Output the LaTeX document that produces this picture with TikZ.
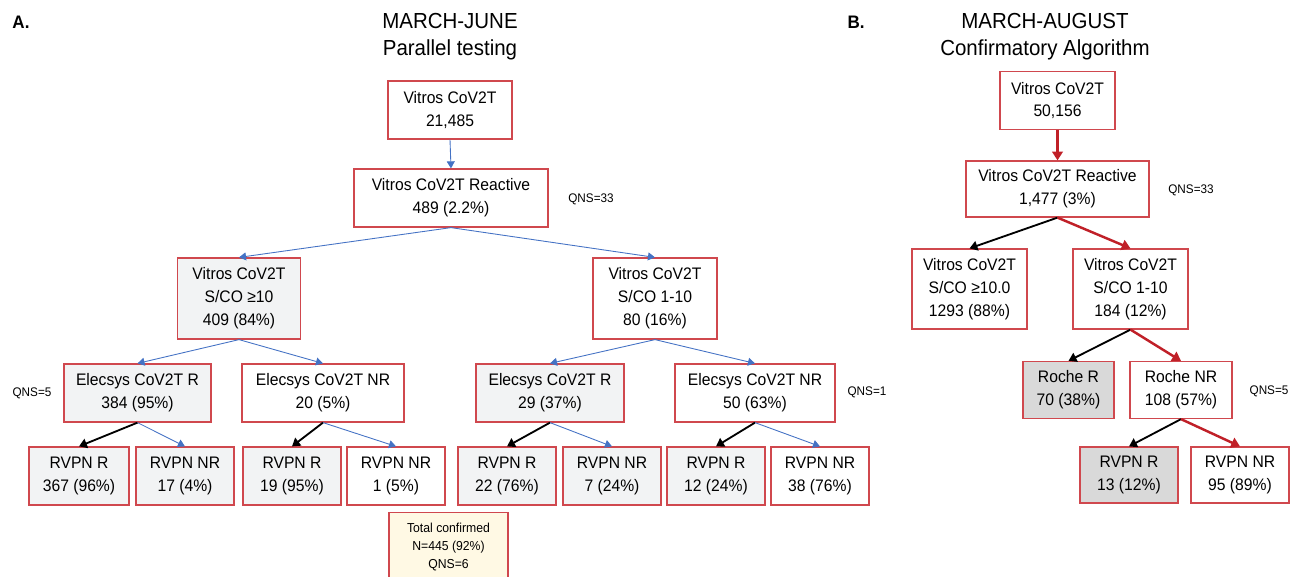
\documentclass[tikz,border=0pt]{standalone}
\usepackage{fontspec}
\setmainfont{Liberation Sans}[FakeStretch=0.94]
\usepackage{tikz}
\usetikzlibrary{arrows.meta}

\definecolor{boxred}{RGB}{208,72,78}
\definecolor{paleA}{RGB}{242,243,244}
\definecolor{greyB}{RGB}{217,217,217}
\definecolor{paleyellow}{RGB}{255,249,228}
\definecolor{arrblue}{RGB}{68,114,196}
\definecolor{arrred}{RGB}{192,32,40}

\begin{document}
\begin{tikzpicture}[
		x=0.02cm, y=-0.02cm,
		box/.style={rectangle, draw=boxred, line width=0.7pt, fill=white, align=center, inner sep=0pt,
			font=\fontsize{9.5}{13}\selectfont, minimum height=1.16cm},
		tall/.style={minimum height=1.62cm},
		shadeA/.style={fill=paleA},
		shadeB/.style={fill=greyB},
		note/.style={font=\fontsize{7.1}{9}\selectfont, inner sep=0pt},
		title/.style={align=center, font=\fontsize{12.4}{15.4}\selectfont},
		bluearr/.style={draw=arrblue, line width=0.5pt, -{Triangle[width=4.5pt,length=4pt]}},
		blackarr/.style={draw=black, line width=1.05pt, -{Triangle[width=5.5pt,length=4.5pt]}},
		redarr/.style={draw=arrred, line width=1.4pt, -{Triangle[width=6pt,length=5pt]}}
	]
  \useasboundingbox (0,0) rectangle (1290,576);
  \clip (0,0) rectangle (1290,576);

  % panel A
  \node (labA) [font=\bfseries\fontsize{10.3}{12}\selectfont, inner sep=0pt] at (21, 22) {A.};
  \node (titleA) [title] at (450, 37) {MARCH-JUNE\\Parallel testing};
  \node (a1) [box, minimum width=2.48cm] at (450, 110) {Vitros CoV2T\\21,485};
  \node (a2) [box, minimum width=3.88cm] at (451, 198) {Vitros CoV2T Reactive\\489 (2.2\%)};
  \node (a3) [box, tall, shadeA, minimum width=2.46cm] at (239, 298.5) {Vitros CoV2T\\S/CO ≥10\\409 (84\%)};
  \node (a4) [box, tall, minimum width=2.48cm] at (655, 298.5) {Vitros CoV2T\\S/CO 1-10\\80 (16\%)};
  \node (a5) [box, shadeA, minimum width=2.94cm] at (137.5, 393) {Elecsys CoV2T R\\384 (95\%)};
  \node (a6) [box, minimum width=3.24cm] at (323, 393) {Elecsys CoV2T NR\\20 (5\%)};
  \node (a7) [box, shadeA, minimum width=2.96cm] at (550, 393) {Elecsys CoV2T R\\29 (37\%)};
  \node (a8) [box, minimum width=3.2cm] at (755, 393) {Elecsys CoV2T NR\\50 (63\%)};
  \node (a9) [box, shadeA, minimum width=2cm] at (79, 476) {RVPN R\\367 (96\%)};
  \node (a10) [box, shadeA, minimum width=1.96cm] at (185, 476) {RVPN NR\\17 (4\%)};
  \node (a11) [box, shadeA, minimum width=1.96cm] at (292, 476) {RVPN R\\19 (95\%)};
  \node (a12) [box, minimum width=1.96cm] at (396, 476) {RVPN NR\\1 (5\%)};
  \node (a13) [box, shadeA, minimum width=1.96cm] at (507, 476) {RVPN R\\22 (76\%)};
  \node (a14) [box, shadeA, minimum width=1.96cm] at (612, 476) {RVPN NR\\7 (24\%)};
  \node (a15) [box, shadeA, minimum width=1.96cm] at (716, 476) {RVPN R\\12 (24\%)};
  \node (a16) [box, minimum width=1.96cm] at (820, 476) {RVPN NR\\38 (76\%)};
  \node (total) [box, fill=paleyellow, minimum width=2.38cm, minimum height=1.38cm,
    font=\fontsize{7.4}{10.2}\selectfont] at (448.5, 547) {Total confirmed\\N=445 (92\%)\\QNS=6};
  \node (qnsA1) [note] at (591, 199) {QNS=33};
  \node (qnsA2) [note] at (32, 393) {QNS=5};
  \node (qnsA3) [note] at (867, 392) {QNS=1};

  \draw (a1.south) edge[bluearr] (a2.north);
  \draw (a2.south) edge[bluearr] (a3.north);
  \draw (a2.south) edge[bluearr] (a4.north);
  \draw (a3.south) edge[bluearr] (a5.north);
  \draw (a3.south) edge[bluearr] (a6.north);
  \draw (a4.south) edge[bluearr] (a7.north);
  \draw (a4.south) edge[bluearr] (a8.north);
  \draw (a5.south) edge[blackarr] (a9.north);
  \draw (a5.south) edge[bluearr] (a10.north);
  \draw (a6.south) edge[blackarr] (a11.north);
  \draw (a6.south) edge[bluearr] (a12.north);
  \draw (a7.south) edge[blackarr] (a13.north);
  \draw (a7.south) edge[bluearr] (a14.north);
  \draw (a8.south) edge[blackarr] (a15.north);
  \draw (a8.south) edge[bluearr] (a16.north);

  % panel B
  \node (labB) [font=\bfseries\fontsize{10.3}{12}\selectfont, inner sep=0pt] at (856, 22) {B.};
  \node (titleB) [title] at (1045, 37) {MARCH-AUGUST\\Confirmatory Algorithm};
  \node (b1) [box, minimum width=2.3cm] at (1057.5, 100.5) {Vitros CoV2T\\50,156};
  \node (b2) [box, minimum width=3.66cm, minimum height=1.12cm] at (1057.5, 189) {Vitros CoV2T Reactive\\1,477 (3\%)};
  \node (b3) [box, tall, minimum width=2.3cm, minimum height=1.6cm] at (969.5, 289) {Vitros CoV2T\\S/CO ≥10.0\\1293 (88\%)};
  \node (b4) [box, tall, minimum width=2.3cm, minimum height=1.6cm] at (1130.5, 289) {Vitros CoV2T\\S/CO 1-10\\184 (12\%)};
  \node (b5) [box, shadeB, minimum width=1.82cm, minimum height=1.14cm] at (1068.5, 390) {Roche R\\70 (38\%)};
  \node (b6) [box, minimum width=2.04cm, minimum height=1.14cm] at (1181, 390) {Roche NR\\108 (57\%)};
  \node (b7) [box, shadeB, minimum width=1.96cm, minimum height=1.12cm] at (1129, 475) {RVPN R\\13 (12\%)};
  \node (b8) [box, minimum width=1.96cm, minimum height=1.12cm] at (1240, 475) {RVPN NR\\95 (89\%)};
  \node (qnsB1) [note] at (1191, 190) {QNS=33};
  \node (qnsB2) [note] at (1269, 391) {QNS=5};

  \draw (b1.south) edge[redarr] (b2.north);
  \draw (b2.south) edge[blackarr] (b3.north);
  \draw (b2.south) edge[redarr] (b4.north);
  \draw (b4.south) edge[blackarr] (b5.north);
  \draw (b4.south) edge[redarr] (b6.north);
  \draw (b6.south) edge[blackarr] (b7.north);
  \draw (b6.south) edge[redarr] (b8.north);
\end{tikzpicture}
\end{document}
